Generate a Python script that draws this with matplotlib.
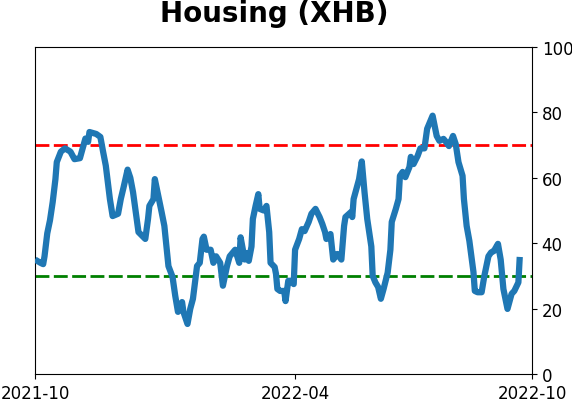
import matplotlib
matplotlib.use("Agg")
import matplotlib.pyplot as plt
import pandas as pd

title = "Housing (XHB)"
start_date = "2021-10-01"
end_date = "2022-10-01"

# observation days (days since start_date) and indicator values
obs_day = [0, 4, 6, 7, 9, 11, 13, 15, 16, 19, 22, 26, 29, 33, 35, 37, 39, 40, 45, 48,
           50, 52, 55, 57, 61, 63, 65, 68, 70, 72, 76, 81, 83, 84, 87, 88, 90, 93, 95, 98,
           101, 103, 105, 108, 109, 112, 114, 116, 119, 121, 123, 124, 126, 129, 131, 133, 136, 138, 141, 143,
           145, 147, 150, 151, 154, 155, 157, 159, 160, 162, 164, 165, 168, 170, 172, 173, 176, 177, 178, 180,
           183, 184, 186, 188, 190, 191, 194, 196, 198, 201, 203, 206, 209, 211, 213, 214, 217, 219, 222, 225,
           227, 228, 232, 233, 234, 236, 238, 240, 242, 244, 247, 248, 250, 252, 254, 256, 259, 261, 262, 265,
           267, 268, 270, 272, 275, 276, 278, 281, 283, 286, 288, 290, 292, 295, 297, 300, 302, 304, 307, 309,
           311, 314, 315, 317, 319, 322, 323, 325, 328, 330, 333, 335, 337, 340, 342, 344, 346, 347, 350, 352,
           355, 356]
values = [35.0, 34.0, 33.6, 36.0, 43.0, 47.0, 52.6, 59.6, 64.8, 68.0, 69.0, 68.0, 65.7, 66.0, 69.0, 72.0, 71.0, 74.0, 73.4, 72.5,
          68.0, 63.7, 53.5, 48.3, 49.0, 53.5, 57.0, 62.5, 60.0, 55.6, 43.4, 41.3, 47.4, 51.4, 53.5, 59.6, 55.6, 49.5, 45.3, 33.0,
          29.7, 23.9, 19.0, 22.0, 19.0, 15.3, 19.9, 23.0, 33.0, 34.0, 41.3, 42.0, 38.0, 38.0, 34.0, 36.0, 34.0, 27.0, 33.0, 36.0,
          37.0, 38.0, 34.0, 41.8, 35.0, 37.0, 34.6, 39.0, 47.4, 51.4, 55.0, 50.5, 50.0, 51.4, 43.4, 34.0, 32.7, 30.6, 26.0, 25.4,
          25.4, 22.3, 28.5, 28.5, 27.5, 38.0, 41.3, 44.3, 43.7, 46.5, 49.0, 50.5, 48.0, 45.9, 43.4, 41.3, 42.8, 35.0, 36.7, 35.0,
          45.3, 48.0, 49.5, 48.0, 53.5, 56.6, 59.6, 65.0, 55.6, 47.4, 39.0, 30.0, 28.0, 26.6, 23.0, 26.0, 31.0, 38.0, 46.5, 50.5,
          53.5, 60.6, 61.8, 60.2, 63.3, 66.4, 64.2, 66.7, 69.0, 69.0, 75.0, 77.0, 79.0, 72.8, 71.3, 71.9, 70.9, 69.7, 72.8, 70.3,
          64.8, 60.6, 53.5, 45.3, 40.7, 31.2, 25.4, 25.0, 25.0, 30.0, 36.0, 37.2, 37.6, 39.8, 35.0, 26.0, 22.0, 19.9, 24.5, 25.4,
          28.0, 35.8]

upper_level = 70
lower_level = 30
x_tick_dates = ["2021-10-01", "2022-04-10", "2022-10-01"]
x_tick_labels = ["2021-10", "2022-04", "2022-10"]
y_ticks = [0, 20, 40, 60, 80, 100]

dates = pd.Timestamp(start_date) + pd.to_timedelta(obs_day, unit="D")

fig = plt.figure(figsize=(5.72, 4.02), dpi=100)
ax = fig.add_axes([35 / 572, 27 / 402, 497 / 572, 327 / 402])

ax.plot(dates, values, color="#1f77b4", linewidth=4.5, solid_capstyle="butt", zorder=3)
ax.axhline(upper_level, color="red", linestyle="--", linewidth=2, dashes=(5, 1.6), zorder=2)
ax.axhline(lower_level, color="green", linestyle="--", linewidth=2, dashes=(5, 1.6), zorder=2)

ax.set_xlim(pd.Timestamp(start_date), pd.Timestamp(end_date))
ax.set_ylim(0, 100)
ax.set_xticks(pd.to_datetime(x_tick_dates))
ax.set_xticklabels(x_tick_labels)
ax.set_yticks(y_ticks)
ax.yaxis.tick_right()
ax.tick_params(axis="both", labelsize=12)

fig.suptitle(title, fontsize=20, fontweight="bold", x=274 / 572, y=1.0, va="top")

fig.savefig("out.png", dpi=100)
